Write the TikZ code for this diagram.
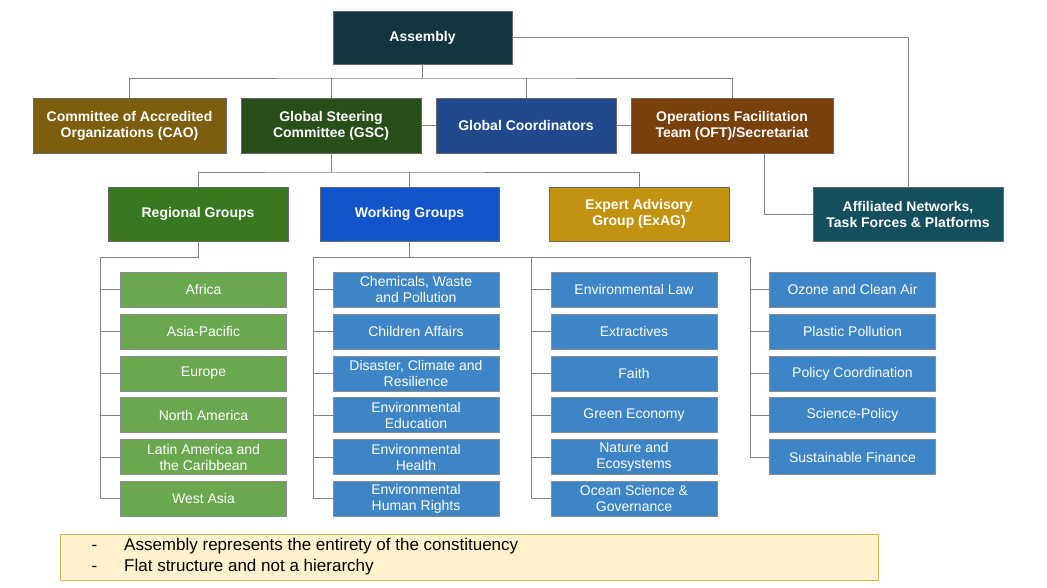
\documentclass[tikz,border=0pt]{standalone}
\usepackage{fontspec}
\setmainfont{Liberation Sans}
\begin{document}
\begin{tikzpicture}[x=1pt,y=-1pt,
  hb/.style={draw=black!60,line width=0.6pt,text=white,font=\bfseries\fontsize{14}{16}\selectfont,align=center,inner sep=0pt},
  it/.style={draw=black!45,line width=0.5pt,text=white,font=\fontsize{14}{16}\selectfont,align=center,inner sep=0pt,minimum width=166pt,minimum height=35pt},
  gi/.style={it,fill=grn},
  bi/.style={it,fill=blu},
  ln/.style={draw=black!50,line width=0.8pt}]
\definecolor{grn}{HTML}{6AA84F}
\definecolor{blu}{HTML}{3D85C6}
\useasboundingbox (0,0) rectangle (1047,588);
\node[hb,fill={rgb,255:red,18;green,53;blue,64},minimum width=179pt,minimum height=53pt] (asm) at (422.5,37.5) {Assembly};
\node[hb,fill={rgb,255:red,124;green,94;blue,14},minimum width=193pt,minimum height=55pt] (cao) at (129.5,125.5) {Committee of Accredited\\Organizations (CAO)};
\node[hb,fill={rgb,255:red,40;green,78;blue,25},minimum width=180pt,minimum height=55pt] (gsc) at (331,125.5) {Global Steering\\Committee (GSC)};
\node[hb,fill={rgb,255:red,33;green,73;blue,142},minimum width=180pt,minimum height=55pt] (gc) at (526,125.5) {Global Coordinators};
\node[hb,fill={rgb,255:red,121;green,64;blue,12},minimum width=202pt,minimum height=55pt] (oft) at (732,125.5) {Operations Facilitation\\Team (OFT)/Secretariat};
\node[hb,fill={rgb,255:red,57;green,120;blue,33},minimum width=180pt,minimum height=54pt] (reg) at (198,214) {Regional Groups};
\node[hb,fill={rgb,255:red,17;green,84;blue,204},minimum width=179pt,minimum height=54pt] (wg) at (409.5,214) {Working Groups};
\node[hb,fill={rgb,255:red,194;green,146;blue,16},minimum width=180pt,minimum height=54pt] (ex) at (639,214) {Expert Advisory\\Group (ExAG)};
\node[hb,fill={rgb,255:red,19;green,79;blue,92},minimum width=190pt,minimum height=54pt] (aff) at (908,214) {Affiliated Networks,\\Task Forces \& Platforms};
% items
\foreach \t [count=\i] in {Africa,Asia-Pacific,Europe,North America,{Latin America and\\the Caribbean},West Asia}
  \node[gi] (r\i) at (203.5,248+41.8*\i) {\t};
\foreach \t [count=\i] in {{Chemicals, Waste\\and Pollution},Children Affairs,{Disaster, Climate and\\Resilience},{Environmental\\Education},{Environmental\\Health},{Environmental\\Human Rights}}
  \node[bi] (w\i) at (416,248+41.8*\i) {\t};
\foreach \t [count=\i] in {Environmental Law,Extractives,Faith,Green Economy,{Nature and\\Ecosystems},{Ocean Science \&\\Governance}}
  \node[bi] (e\i) at (634,248+41.8*\i) {\t};
\foreach \t [count=\i] in {Ozone and Clean Air,Plastic Pollution,Policy Coordination,Science-Policy,Sustainable Finance}
  \node[bi] (p\i) at (852.5,248+41.8*\i) {\t};
% connectors
\coordinate (b1) at (422.5,78);
\draw[ln] (asm.south) -- (b1);
\draw[ln] (cao.north) |- (b1) -| (oft.north);
\draw[ln] (gsc.north) -- (gsc.north|-b1);
\draw[ln] (gc.north) -- (gc.north|-b1);
\draw[ln] (gsc.east) -- (gc.west);
\draw[ln] (gc.east) -- (oft.west);
\draw[ln] (asm.east) -| (aff.north);
\draw[ln] (oft.south-|764,0) |- (aff.west);
\coordinate (b2) at (331,172);
\draw[ln] (gsc.south) -- (b2);
\draw[ln] (reg.north) |- (b2) -| (ex.north);
\draw[ln] (wg.north) -- (wg.north|-b2);
% regional
\coordinate (rb) at (198,257);
\draw[ln] (reg.south) -- (rb) -- (100,257) |- (r6.west);
\foreach \i in {1,...,5} \draw[ln] (100,0|-r\i.west) -- (r\i.west);
% working
\coordinate (wb) at (409.5,257);
\draw[ln] (wg.south) -- (wb);
\draw[ln] (313,257) -- (750,257);
\draw[ln] (313,257) |- (w6.west);
\foreach \i in {1,...,5} \draw[ln] (313,0|-w\i.west) -- (w\i.west);
\draw[ln] (531,257) |- (e6.west);
\foreach \i in {1,...,5} \draw[ln] (531,0|-e\i.west) -- (e\i.west);
\draw[ln] (750,257) |- (p5.west);
\foreach \i in {1,...,4} \draw[ln] (750,0|-p\i.west) -- (p\i.west);
% note
\node[draw={rgb,255:red,214;green,182;blue,86},fill={rgb,255:red,255;green,242;blue,204},line width=0.6pt,minimum width=818pt,minimum height=46pt,inner sep=0pt] (note) at (469,557) {};
\node[anchor=west,font=\fontsize{17}{21}\selectfont,align=left] (nt) at (88,557) {-\hspace{27pt}Assembly represents the entirety of the constituency\\-\hspace{27pt}Flat structure and not a hierarchy};
\end{tikzpicture}
\end{document}
